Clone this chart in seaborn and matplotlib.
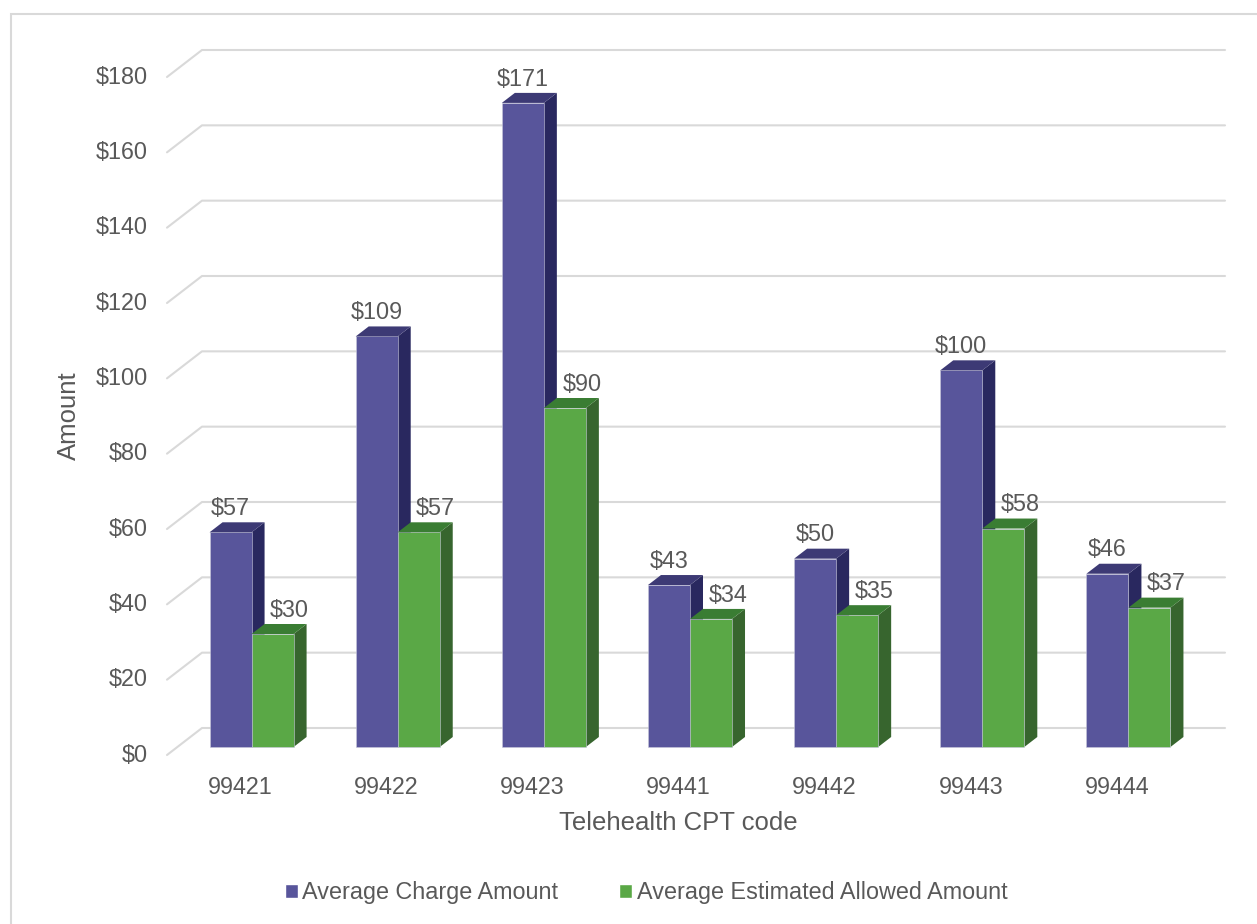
import matplotlib
matplotlib.use("Agg")
import matplotlib.pyplot as plt
from matplotlib.patches import Polygon, Rectangle
import matplotlib.transforms as mtransforms
import seaborn as sns
import pandas as pd

# data
codes = ["99421", "99422", "99423", "99441", "99442", "99443", "99444"]
charge = [57, 109, 171, 43, 50, 100, 46]
allowed = [30, 57, 90, 34, 35, 58, 37]
series = ["Average Charge Amount", "Average Estimated Allowed Amount"]
yticks = list(range(0, 181, 20))

df = pd.DataFrame({
    "code": codes * 2,
    "amount": charge + allowed,
    "series": [series[0]] * len(codes) + [series[1]] * len(codes),
})

front = {series[0]: "#58559b", series[1]: "#5aa846"}
top_c = {series[0]: "#3d3a75", series[1]: "#3a7d33"}
side_c = {series[0]: "#29285f", series[1]: "#37652e"}
txt = "#595959"
grid = "#d9d9d9"
fs = 16.8

sns.set_theme(style="white")
plt.rcParams["font.family"] = ["Liberation Sans", "DejaVu Sans"]

W, H = 1257, 924
fig = plt.figure(figsize=(W / 100, H / 100), dpi=100)
# axes placed in pixel terms: front floor edge 167..1190, $0 at 755, $180 at 77
ax = fig.add_axes([167 / W, (H - 755) / H, 1023 / W, 678 / H])
ax.set_xlim(-0.5, 6.5)
ax.set_ylim(0, 180)

pxx = 1023 / 7      # px per category
pxy = 678 / 180     # px per dollar
# depth offsets (data units)
back_dx, back_dy = 35 / pxx, 27 / pxy
bar_dx, bar_dy = 11.5 / pxx, 8 / pxy
dep_dx, dep_dy = 13 / pxx, 10 / pxy

# back wall gridlines + diagonal floor lines
for v in yticks:
    ax.plot([-0.5, -0.5 + back_dx, 6.5 + back_dx], [v, v + back_dy, v + back_dy],
            color=grid, lw=1.5, clip_on=False, zorder=0)
    ax.text(-0.5 - 19 / pxx, v, f"${v}", ha="right", va="center",
            fontsize=fs, color=txt)

sns.barplot(data=df, x="code", y="amount", hue="series", palette=front,
            width=0.575, ax=ax, legend=False, saturation=1,
            edgecolor="#c8c8dc", linewidth=0.4, zorder=2)

shift = mtransforms.ScaledTranslation(bar_dx * pxx / 100, bar_dy * pxy / 100,
                                      fig.dpi_scale_trans)
bars = [p for p in ax.patches if isinstance(p, Rectangle)]
order = [series[0]] * len(codes) + [series[1]] * len(codes)
for p, s in zip(bars, order):
    p.set_transform(ax.transData + shift)
    p.set_clip_on(False)
    x0, x1, h = p.get_x(), p.get_x() + p.get_width(), p.get_height()
    top = Polygon([(x0, h), (x1, h), (x1 + dep_dx, h + dep_dy), (x0 + dep_dx, h + dep_dy)],
                  closed=True, facecolor=top_c[s], edgecolor="none",
                  transform=ax.transData + shift, clip_on=False, zorder=2)
    side = Polygon([(x1, 0), (x1 + dep_dx, dep_dy), (x1 + dep_dx, h + dep_dy), (x1, h)],
                   closed=True, facecolor=side_c[s], edgecolor="none",
                   transform=ax.transData + shift, clip_on=False, zorder=1.9)
    ax.add_patch(side)
    ax.add_patch(top)
    lx = (x0 + x1) / 2 + (0 if s == series[0] else 17 / pxx)
    ax.text(lx, h + dep_dy + 0.6, f"${h:.0f}",
            ha="center", va="bottom", fontsize=fs, color=txt,
            transform=ax.transData + shift, zorder=3)

ax.set_xticks(range(len(codes)))
ax.set_xticklabels(codes, fontsize=fs, color=txt)
ax.tick_params(axis="x", length=0, pad=15)
ax.set_yticks([])
ax.set_xlabel("Telehealth CPT code", fontsize=18.5, color=txt, labelpad=9)
ax.set_ylabel("Amount", fontsize=18.5, color=txt, labelpad=62)
sns.despine(ax=ax, left=True, bottom=True)

handles = [Rectangle((0, 0), 1, 1, facecolor=front[s]) for s in series]
fig.legend(handles, series, loc="center", bbox_to_anchor=(646 / W, 1 - 893 / H),
           ncol=2, frameon=False, fontsize=fs, labelcolor=txt,
           handlelength=0.55, handleheight=0.55, handletextpad=0.2, columnspacing=2.6)

# chart frame
fig.patches.append(Rectangle((11 / W, -0.01), 1.05, 1 - 14 / H + 0.01,
                             transform=fig.transFigure, fill=False,
                             edgecolor=grid, lw=1.5))

fig.savefig("out.png", dpi=100)
